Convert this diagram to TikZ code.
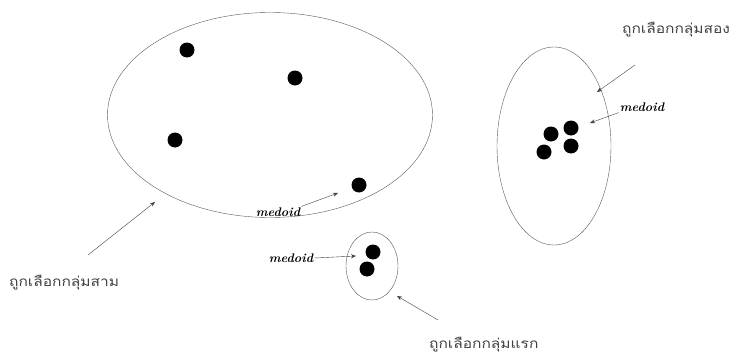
\documentclass[tikz,border=0pt]{standalone}
\usepackage{fontspec}
\newfontfamily\thaifont[Script=Thai, FakeStretch=1.15]{Loma}
\usetikzlibrary{arrows.meta, positioning, shapes.geometric}

\tikzset{
  cluster/.style={draw=black!65, ellipse, thin, inner sep=0pt},
  dot/.style={circle, fill=black, inner sep=0pt, minimum width=15pt, minimum height=14pt},
  thailabel/.style={font=\thaifont\fontsize{13.5}{15}\selectfont, text=black!75, inner sep=1pt},
  medlabel/.style={font=\bfseries\itshape\fontsize{12.5}{14}\selectfont, inner sep=1pt},
  pointer/.style={->, draw=black!75, thin}
}

\begin{document}
\begin{tikzpicture}[>={Stealth[length=5pt, width=4pt]}, x=1pt, y=-1pt]
  \useasboundingbox (0,0) rectangle (740,356);

  % Clusters as ellipses
  \node[cluster, minimum width=325pt, minimum height=205pt] (Big) at (270,115) {};
  \node[cluster, minimum width=114pt, minimum height=198pt] (Right) at (554,146) {};
  \node[cluster, minimum width=52pt, minimum height=68pt] (Small) at (372,266) {};

  % Objects
  \node[dot] (b1) at (187,50) {};
  \node[dot] (b2) at (295,78) {};
  \node[dot] (b3) at (175,140) {};
  \node[dot] (b4) at (359,185) {};
  \node[dot] (r1) at (551,134) {};
  \node[dot] (r2) at (571,128) {};
  \node[dot] (r3) at (544,152) {};
  \node[dot] (r4) at (571,146) {};
  \node[dot] (s1) at (373,252) {};
  \node[dot] (s2) at (367,269) {};

  % Labels
  \node[thailabel, anchor=west] (L2) at (621,30) {ถูกเลือกกลุ่มสอง};
  \node[thailabel, anchor=west] (L3) at (8,283) {ถูกเลือกกลุ่มสาม};
  \node[thailabel, anchor=west] (L1) at (428,345) {ถูกเลือกกลุ่มแรก};
  \node[medlabel] (M2) at (642,107) {medoid};
  \node[medlabel] (M3) at (278,212) {medoid};
  \node[medlabel] (M1) at (291,258) {medoid};

  % Arrow tips
  \coordinate (t2) at (597,92);
  \coordinate (tm2) at (590,123);
  \coordinate (t3) at (155,202);
  \coordinate (tm3) at (338,193);
  \coordinate (t1) at (397,296);
  \coordinate (tm1) at (356,256);

  % Pointers
  \draw[pointer] (635,65) -- (t2);
  \draw[pointer] (M2.south west) -- (tm2);
  \draw[pointer] (88,255) -- (t3);
  \draw[pointer] (M3.north east) -- (tm3);
  \draw[pointer] (438,320) -- (t1);
  \draw[pointer] (M1.east) -- (tm1);
\end{tikzpicture}
\end{document}
